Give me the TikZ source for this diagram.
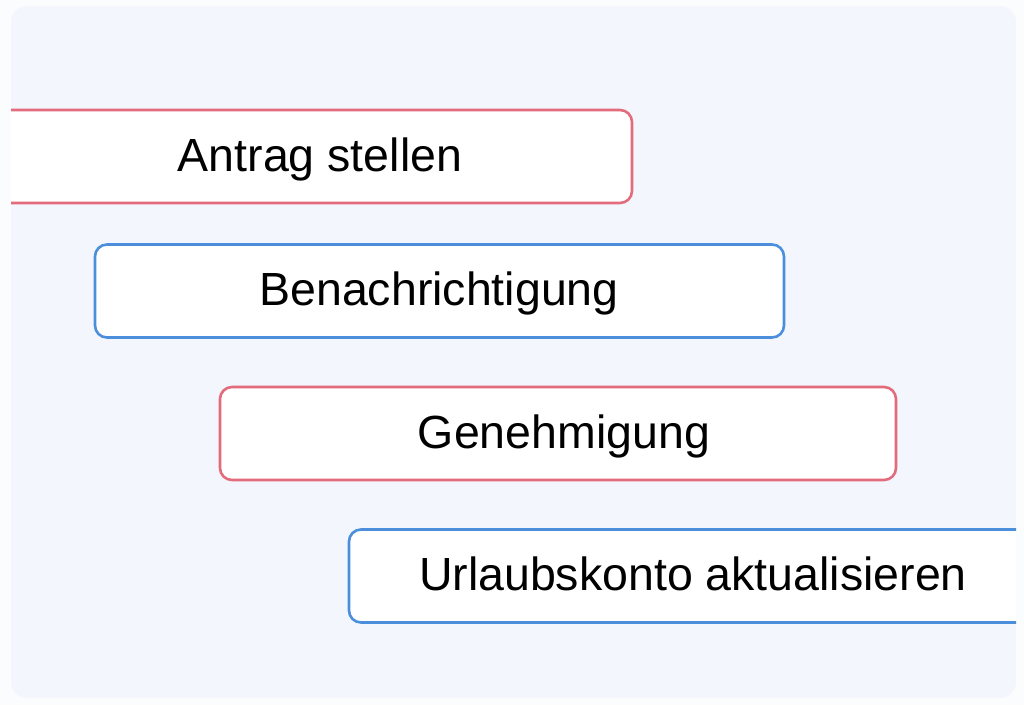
\documentclass[tikz,border=0pt]{standalone}
\usepackage{fontspec}
\setmainfont{Liberation Sans}
\usepackage{tikz}
\usetikzlibrary{positioning}

\definecolor{panelbg}{HTML}{F3F6FC}
\definecolor{pagebg}{HTML}{FBFCFE}
\definecolor{stepredline}{HTML}{E26B7C}
\definecolor{stepblueline}{HTML}{4A8EDC}

\tikzset{
  stepbox/.style={shape=rectangle, draw, fill=white, line width=2.6pt, rounded corners=12pt, minimum height=93pt, inner sep=0pt, outer sep=0pt},
  stepred/.style={stepbox, draw=stepredline},
  stepblue/.style={stepbox, draw=stepblueline},
  steptext/.style={anchor=center, inner sep=0pt, text height=33pt, text depth=0pt, font=\fontsize{46.5}{56}\selectfont}
}

\begin{document}
\begin{tikzpicture}[x=1pt, y=-1pt]
				% Background and panel:
				\useasboundingbox[fill=pagebg] (0, 0) rectangle (1024, 705);
				\fill[panelbg, rounded corners=16pt] (11, 6) rectangle (1016, 698);
				\begin{scope}
				\clip[rounded corners=16pt] (11, 6) rectangle (1016, 698);
				% Steps:
				\node[stepred, minimum width=700pt](N1) at (282, 156.5){} node[steptext](T1) at (320, 154.5){Antrag stellen};
				\node[stepblue, minimum width=689pt](N2) at (439.5, 291){} node[steptext](T2) at (439, 289){Benachrichtigung};
				\node[stepred, minimum width=676pt](N3) at (558, 433.5){} node[steptext](T3) at (564, 431.5){Genehmigung};
				\node[stepblue, minimum width=731pt](N4) at (714.5, 576){} node[steptext](T4) at (693, 574){Urlaubskonto aktualisieren};
				\end{scope}
			\end{tikzpicture}
\end{document}
